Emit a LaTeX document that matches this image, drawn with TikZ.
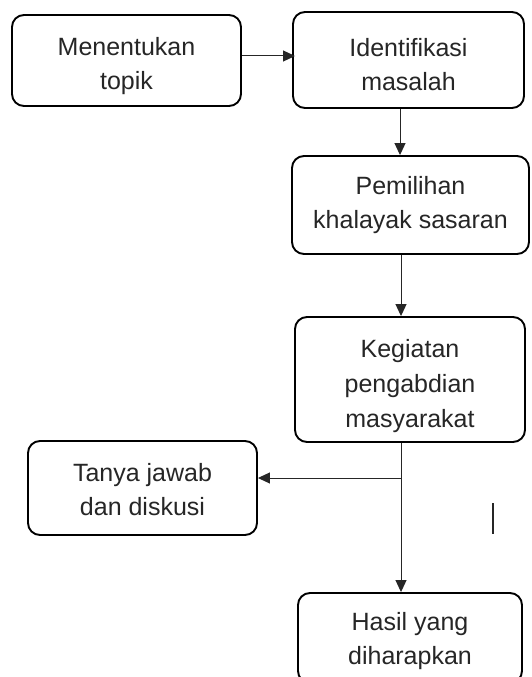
\documentclass[tikz,border=0pt]{standalone}
\usepackage{fontspec}
\setmainfont{Liberation Sans}
\usetikzlibrary{arrows.meta}
\definecolor{txt}{HTML}{262626}
\tikzset{
  box/.style={draw=black, line width=1.9pt, rounded corners=12pt, inner sep=0pt},
  lbl/.style={align=center, text=txt, font=\fontsize{25}{34}\selectfont, inner sep=0pt},
  arr/.style={draw=black!85, line width=1pt, -{Triangle[length=12pt,width=11pt]}}
}
\begin{document}
\begin{tikzpicture}[x=1pt,y=-1pt]
\useasboundingbox (0,0) rectangle (531,677);
\clip (0,0) rectangle (531,677);
\fill[white] (0,0) rectangle (531,677);
\node[box, minimum width=229pt, minimum height=91pt] (B1) at (126.5,60.5) {};
\node[box, minimum width=231pt, minimum height=96pt] (B2) at (408.5,60) {};
\node[box, minimum width=237pt, minimum height=98pt] (B3) at (410.5,205) {};
\node[box, minimum width=230pt, minimum height=125pt] (B4) at (410,379.5) {};
\node[box, minimum width=229pt, minimum height=94pt] (B5) at (142.5,488) {};
\node[box, minimum width=224pt, minimum height=90pt] (B6) at (410,638) {};
\node[lbl] (T1) at ([yshift=-6pt]B1.center) {Menentukan\\topik};
\node[lbl] (T2) at ([yshift=-5pt]B2.center) {Identifikasi\\masalah};
\node[lbl] (T3) at ([yshift=0pt]B3.center) {Pemilihan\\khalayak sasaran};
\node[lbl, font=\fontsize{25}{35}\selectfont] (T4) at ([yshift=-7pt]B4.center) {Kegiatan\\pengabdian\\masyarakat};
\node[lbl] (T5) at ([yshift=-2pt]B5.center) {Tanya jawab\\dan diskusi};
\node[lbl] (T6) at ([yshift=-3pt]B6.center) {Hasil yang\\diharapkan};
\coordinate (c1) at (0,56);
\coordinate (x23) at (400,0);
\coordinate (x34) at (401,0);
\coordinate (trunk) at (401,0);
\coordinate (br) at (0,478);
\coordinate (s1) at (493,503);
\coordinate (s2) at (493,534);
\draw[arr] (B1.east |- c1) -- ([xshift=3pt]B2.west |- c1);
\draw[arr] (B2.south -| x23) -- (B3.north -| x23);
\draw[arr] (B3.south -| x34) -- (B4.north -| x34);
\draw[arr] (B4.south -| trunk) -- (B6.north -| trunk);
\draw[arr] (trunk |- br) -- (B5.east |- br);
\draw[line width=1.5pt, txt] (s1) -- (s2);
\end{tikzpicture}
\end{document}
